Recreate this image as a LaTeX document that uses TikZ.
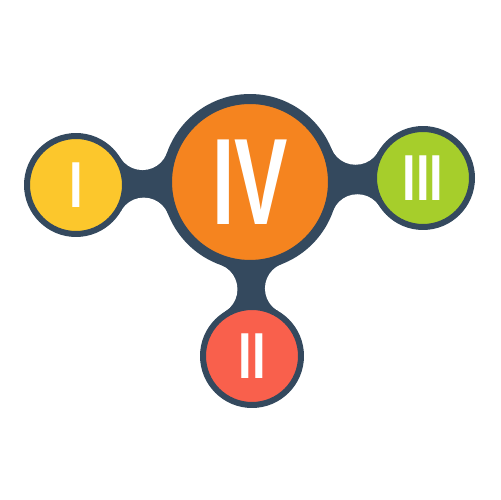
\documentclass[tikz,border=0pt]{standalone}
\usepackage{fontspec}
\setmainfont{Liberation Sans}
\usetikzlibrary{intersections,backgrounds}

\definecolor{navy}{HTML}{34495E}
\definecolor{ballyellow}{HTML}{FCC72C}
\definecolor{ballorange}{HTML}{F5841F}
\definecolor{ballgreen}{HTML}{A6CE2B}
\definecolor{ballred}{HTML}{F9604C}

\begin{document}
\begin{tikzpicture}[x=0.02cm,y=0.02cm]
	\tikzset{BallStyle/.style =
		{draw = navy,
			shape = circle,
			inner sep = 0pt,
			text = white},
		SmallBall/.style =
		{BallStyle,
			line width = 0.12cm,
			minimum size = 1.96cm,
			font = \fontsize{37}{37}\selectfont\bfseries},
		BigBall/.style =
		{BallStyle,
			line width = 0.2cm,
			minimum size = 3.32cm,
			font = \fontsize{70}{70}\selectfont\bfseries}}
	\useasboundingbox (0,0) rectangle (500,500);
	\node[BigBall, fill=ballorange] (iv) at (250,318) {\scalebox{0.65}[1]{IV}};
	\node[SmallBall, fill=ballyellow] (i) at (76,315) {\scalebox{0.75}[1]{I}};
	\node[SmallBall, fill=ballgreen] (iii) at (423,322) {\scalebox{0.75}[1]{III}};
	\node[SmallBall, fill=ballred] (ii) at (252,144) {\scalebox{0.75}[1]{II}};
	% bridges: outer radius + 26
	\begin{scope}[on background layer]
		\path[name path=big] (iv.center) circle (114);
		\foreach \b in {i,iii,ii} {
			\path[name path=small] (\b.center) circle (78);
			\path[name intersections={of=big and small, by={\b a,\b b}}];
			\fill[navy] (iv.center) -- (\b a) -- (\b.center) -- (\b b) -- cycle;
			\fill[white] (\b a) circle (26) (\b b) circle (26);
		}
	\end{scope}
\end{tikzpicture}
\end{document}
